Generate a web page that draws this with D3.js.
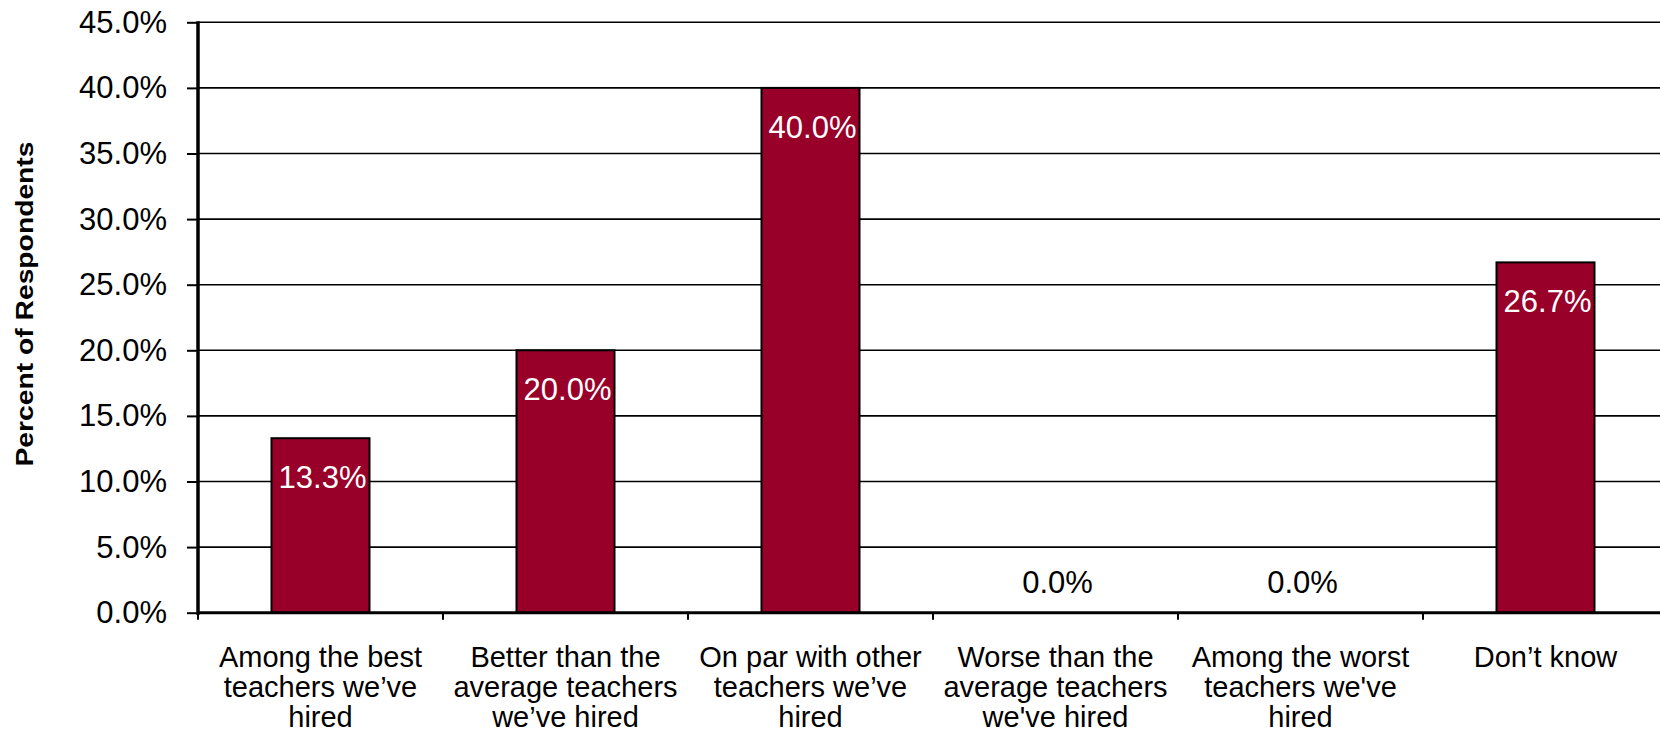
<!DOCTYPE html>
<html>
<head>
<meta charset="utf-8">
<script src="https://cdn.jsdelivr.net/npm/d3@7"></script>
<style>
  html, body { margin: 0; padding: 0; background: #fff; }
  svg { display: block; }
  text { font-family: Arial, "Liberation Sans", sans-serif; }
</style>
</head>
<body>
<svg id="chart" width="1660" height="734"></svg>
<script>
const categories = [
  ["Among the best", "teachers we’ve", "hired"],
  ["Better than the", "average teachers", "we’ve hired"],
  ["On par with other", "teachers we’ve", "hired"],
  ["Worse than the", "average teachers", "we've hired"],
  ["Among the worst", "teachers we've", "hired"],
  ["Don’t know"]
];
const values = [13.3, 20.0, 40.0, 0.0, 0.0, 26.7];
const yTicks = [0, 5, 10, 15, 20, 25, 30, 35, 40, 45];
const yTitle = "Percent of Respondents";

const svg = d3.select("#chart");
const x0 = 198, bandW = 245;
const x = d3.scaleBand().domain(d3.range(categories.length))
  .range([x0, x0 + bandW * categories.length]).paddingInner(0.6).paddingOuter(0.3);
const xb = d3.scaleBand().domain(d3.range(categories.length))
  .range([x0, x0 + bandW * categories.length]);
const y = d3.scaleLinear().domain([0, 45]).range([612.7, 22.3]);

// gridlines
svg.append("g").selectAll("line").data(yTicks.filter(d => d > 0)).join("line")
  .attr("x1", x0).attr("x2", 1660)
  .attr("y1", d => y(d)).attr("y2", d => y(d))
  .attr("stroke", "#000").attr("stroke-width", 1.6);

// y axis
const yAxis = svg.append("g").attr("transform", `translate(${x0},0)`)
  .call(d3.axisLeft(y).tickValues(yTicks).tickSize(11).tickPadding(20)
    .tickFormat(d => d.toFixed(1) + "%"));
yAxis.select(".domain").remove();
yAxis.selectAll(".tick line").attr("stroke", "#000").attr("stroke-width", 2);
yAxis.selectAll(".tick text").attr("font-size", 31).attr("fill", "#000")
  .attr("font-family", "Arial, 'Liberation Sans', sans-serif");
svg.append("line").attr("x1", x0).attr("x2", x0).attr("y1", y(45) - 1).attr("y2", y(0) + 2)
  .attr("stroke", "#000").attr("stroke-width", 3.5);

// bars
svg.append("g").selectAll("rect").data(values).join("rect")
  .attr("x", (d, i) => x(i)).attr("width", x.bandwidth())
  .attr("y", d => y(d)).attr("height", d => y(0) - y(d))
  .attr("fill", d => d > 0 ? "#990029" : "none")
  .attr("stroke", d => d > 0 ? "#000" : "none").attr("stroke-width", 2);

// x axis line and ticks
svg.append("line").attr("x1", x0).attr("x2", 1660).attr("y1", y(0)).attr("y2", y(0))
  .attr("stroke", "#000").attr("stroke-width", 3);
svg.append("g").selectAll("line").data(d3.range(categories.length + 1)).join("line")
  .attr("x1", i => x0 + bandW * i).attr("x2", i => x0 + bandW * i)
  .attr("y1", y(0)).attr("y2", y(0) + 7)
  .attr("stroke", "#000").attr("stroke-width", 2);

// value labels
svg.append("g").selectAll("text").data(values).join("text")
  .attr("x", (d, i) => x(i) + x.bandwidth() / 2 + 2)
  .attr("y", d => d > 0 ? y(d) + 50 : y(0) - 20)
  .attr("text-anchor", "middle").attr("font-size", 31)
  .attr("fill", d => d > 0 ? "#fff" : "#000")
  .text(d => d.toFixed(1) + "%");

// category labels
const cat = svg.append("g").selectAll("text").data(categories).join("text")
  .attr("text-anchor", "middle").attr("font-size", 29).attr("fill", "#000");
cat.each(function(lines, i) {
  d3.select(this).selectAll("tspan").data(lines).join("tspan")
    .attr("x", xb(i) + xb.bandwidth() / 2)
    .attr("y", (l, j) => 667 + j * 30)
    .text(l => l);
});

// y title
svg.append("text")
  .attr("transform", "translate(33,304) rotate(-90)")
  .attr("text-anchor", "middle").attr("font-size", 23).attr("font-weight", "bold")
  .attr("textLength", 325).attr("lengthAdjust", "spacingAndGlyphs")
  .attr("fill", "#000").text(yTitle);
</script>
</body>
</html>
